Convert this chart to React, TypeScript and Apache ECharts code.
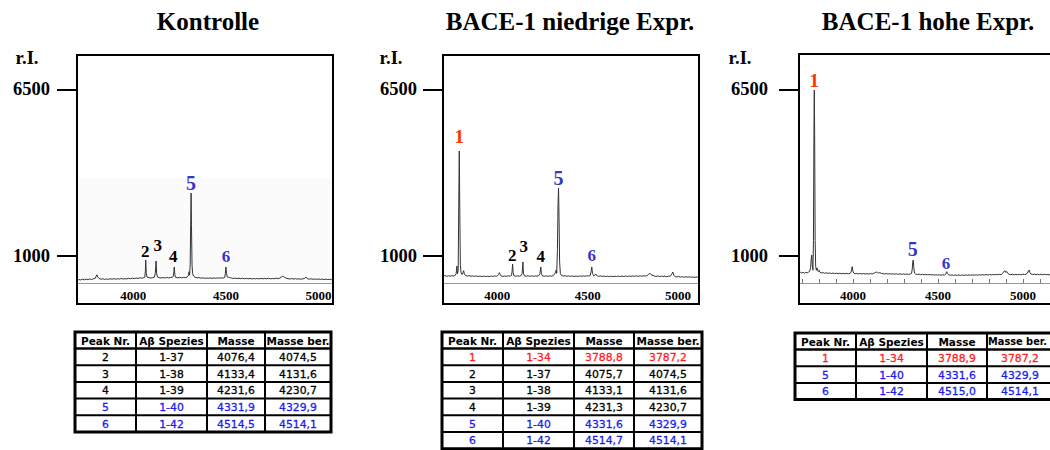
import React, { useEffect, useRef } from "react";
import * as echarts from "echarts";

// ---------------- DATA ----------------
const panelTitles = ["Kontrolle", "BACE-1 niedrige Expr.", "BACE-1 hohe Expr."];
const yAxisName = "r.I.";
const yTickValues = [1000, 6500];
const xTickValues = [4000, 4500, 5000];
const minorTickValues = [3700, 3800, 3900, 4000, 4100, 4200, 4300, 4400, 4500, 4600, 4700, 4800, 4900, 5000, 5100, 5200];

// [m/z, relative intensity]
const spectrumKontrolle: number[][] = [
  [3696, 190], [3705, 215], [3715, 200], [3725, 225], [3735, 205], [3745, 230], [3755, 210], [3765, 235], [3775, 215], [3785, 240],
  [3795, 260], [3800, 330], [3804, 370], [3808, 300], [3815, 250], [3825, 225], [3835, 240], [3845, 215], [3855, 235], [3865, 220],
  [3875, 240], [3885, 225], [3895, 245], [3905, 225], [3915, 240], [3925, 230], [3935, 250], [3945, 230], [3955, 245], [3965, 235],
  [3975, 255], [3985, 240], [3995, 260], [4005, 245], [4015, 265], [4025, 250], [4035, 270], [4045, 260], [4055, 275], [4062, 290],
  [4065, 480], [4067, 860], [4070, 420], [4074, 300], [4085, 275], [4095, 265], [4105, 280], [4114, 290], [4119, 440], [4123, 827],
  [4126, 400], [4131, 295], [4140, 275], [4150, 265], [4160, 280], [4170, 265], [4180, 285], [4190, 270], [4200, 280], [4210, 285],
  [4216, 330], [4219, 470], [4221, 629], [4224, 380], [4228, 290], [4240, 270], [4250, 285], [4260, 270], [4270, 285], [4280, 275],
  [4290, 295], [4297, 340], [4301, 473], [4304, 360], [4307, 700], [4310, 2200], [4312, 3073], [4314, 2000], [4317, 700], [4320, 420],
  [4325, 330], [4333, 290], [4345, 270], [4355, 280], [4365, 260], [4375, 270], [4385, 255], [4395, 265], [4405, 255], [4415, 268],
  [4425, 255], [4435, 265], [4445, 255], [4455, 270], [4465, 258], [4475, 272], [4485, 262], [4493, 280], [4497, 420], [4500, 629],
  [4503, 420], [4507, 300], [4513, 290], [4520, 280], [4530, 265], [4540, 250], [4550, 262], [4560, 245], [4570, 258], [4580, 242],
  [4590, 255], [4600, 240], [4610, 252], [4620, 238], [4630, 250], [4640, 236], [4650, 248], [4660, 235], [4670, 250], [4680, 236],
  [4690, 252], [4700, 238], [4710, 250], [4720, 240], [4730, 255], [4740, 238], [4750, 250], [4760, 240], [4770, 258], [4780, 245],
  [4790, 262], [4800, 290], [4806, 331], [4812, 310], [4818, 280], [4826, 255], [4835, 245], [4845, 232], [4855, 246], [4865, 230],
  [4875, 242], [4885, 228], [4895, 240], [4905, 226], [4915, 238], [4925, 250], [4932, 300], [4936, 280], [4940, 240], [4950, 228],
  [4960, 238], [4970, 222], [4980, 235], [4990, 220], [5000, 232], [5010, 218], [5020, 230], [5030, 215], [5040, 228], [5050, 212],
  [5060, 225], [5070, 210], [5078, 220],
];

const spectrumNiedrig: number[][] = [
  [3700, 330], [3710, 345], [3720, 320], [3730, 340], [3740, 325], [3750, 345], [3760, 330], [3768, 355], [3773, 420], [3777, 662],
  [3780, 400], [3784, 520], [3787, 2600], [3790, 4461], [3793, 2400], [3796, 700], [3800, 430], [3806, 380], [3811, 450], [3814, 506],
  [3818, 400], [3825, 350], [3835, 330], [3845, 345], [3855, 320], [3865, 335], [3875, 318], [3885, 332], [3895, 315], [3905, 330],
  [3915, 312], [3925, 328], [3935, 310], [3945, 325], [3955, 312], [3965, 330], [3975, 318], [3985, 335], [3995, 320], [4003, 345],
  [4008, 390], [4012, 440], [4016, 380], [4022, 330], [4032, 318], [4042, 332], [4052, 320], [4062, 338], [4072, 325], [4079, 350],
  [4082, 480], [4085, 728], [4088, 450], [4092, 340], [4102, 325], [4112, 338], [4122, 322], [4132, 345], [4138, 420], [4142, 794],
  [4145, 420], [4150, 340], [4160, 325], [4170, 338], [4180, 322], [4190, 336], [4200, 320], [4210, 335], [4220, 325], [4230, 345],
  [4236, 400], [4241, 629], [4244, 420], [4250, 335], [4260, 322], [4270, 336], [4280, 320], [4290, 338], [4300, 325], [4310, 345],
  [4318, 400], [4323, 470], [4326, 530], [4329, 420], [4333, 1200], [4336, 2600], [4339, 3238], [4342, 2200], [4345, 800], [4349, 420],
  [4355, 350], [4365, 330], [4375, 340], [4385, 322], [4395, 336], [4405, 318], [4415, 332], [4425, 315], [4435, 330], [4445, 318],
  [4455, 332], [4465, 320], [4475, 335], [4485, 322], [4495, 338], [4505, 330], [4514, 345], [4519, 470], [4523, 629], [4527, 420],
  [4533, 340], [4540, 360], [4545, 397], [4550, 345], [4560, 320], [4570, 334], [4580, 318], [4590, 330], [4600, 312], [4610, 326],
  [4620, 310], [4630, 325], [4640, 310], [4650, 324], [4660, 312], [4670, 328], [4680, 314], [4690, 328], [4700, 315], [4710, 330],
  [4720, 316], [4730, 332], [4740, 318], [4750, 334], [4760, 320], [4770, 336], [4780, 322], [4790, 338], [4800, 325], [4810, 340],
  [4820, 330], [4830, 350], [4838, 390], [4845, 420], [4850, 380], [4856, 350], [4862, 364], [4868, 330], [4878, 318], [4888, 330],
  [4898, 315], [4908, 328], [4918, 312], [4928, 326], [4938, 310], [4948, 325], [4958, 330], [4965, 390], [4971, 463], [4976, 360],
  [4984, 310], [4994, 300], [5004, 312], [5014, 296], [5024, 308], [5034, 292], [5044, 305], [5054, 290], [5064, 302], [5074, 288],
  [5084, 300], [5094, 286], [5104, 298], [5116, 288],
];

const spectrumHoch: number[][] = [
  [3682, 440], [3690, 455], [3698, 430], [3706, 450], [3714, 428], [3722, 448], [3730, 435], [3738, 460], [3745, 490], [3750, 600],
  [3754, 900], [3757, 1025], [3760, 700], [3764, 520], [3767, 1500], [3770, 5200], [3772, 6476], [3774, 5000], [3777, 1500], [3780, 650],
  [3784, 520], [3788, 600], [3791, 586], [3795, 480], [3800, 520], [3804, 460], [3812, 430], [3822, 445], [3832, 420], [3842, 438],
  [3852, 418], [3862, 432], [3872, 412], [3882, 428], [3892, 410], [3902, 425], [3912, 408], [3922, 422], [3932, 405], [3942, 420],
  [3952, 405], [3962, 418], [3972, 402], [3982, 420], [3988, 450], [3992, 560], [3995, 638], [3998, 520], [4003, 430], [4012, 405],
  [4022, 418], [4032, 400], [4042, 415], [4052, 398], [4062, 412], [4072, 396], [4082, 410], [4092, 395], [4102, 410], [4112, 400],
  [4122, 420], [4130, 440], [4136, 465], [4139, 473], [4143, 450], [4150, 430], [4158, 445], [4166, 420], [4176, 410], [4186, 398],
  [4196, 412], [4206, 395], [4216, 408], [4226, 392], [4236, 406], [4246, 390], [4256, 404], [4266, 388], [4276, 402], [4286, 386],
  [4296, 400], [4306, 385], [4316, 398], [4326, 384], [4336, 396], [4344, 420], [4348, 560], [4351, 800], [4354, 860], [4357, 640],
  [4361, 430], [4368, 395], [4378, 380], [4388, 392], [4398, 376], [4408, 388], [4418, 372], [4428, 384], [4438, 368], [4448, 380],
  [4458, 365], [4468, 376], [4478, 362], [4488, 374], [4498, 360], [4508, 372], [4518, 358], [4528, 370], [4538, 364], [4545, 395],
  [4549, 450], [4551, 473], [4555, 410], [4562, 370], [4572, 355], [4582, 368], [4592, 352], [4602, 365], [4612, 350], [4622, 364],
  [4632, 350], [4642, 365], [4652, 352], [4662, 366], [4672, 354], [4682, 368], [4692, 355], [4702, 370], [4712, 356], [4722, 372],
  [4732, 358], [4742, 374], [4752, 360], [4762, 376], [4772, 362], [4782, 378], [4792, 365], [4802, 380], [4812, 367], [4822, 382],
  [4832, 370], [4842, 385], [4852, 372], [4862, 388], [4872, 378], [4880, 420], [4886, 480], [4893, 506], [4898, 450], [4904, 480],
  [4910, 420], [4918, 385], [4928, 375], [4938, 388], [4948, 372], [4958, 386], [4968, 370], [4978, 384], [4988, 372], [4998, 390],
  [5008, 378], [5018, 395], [5026, 430], [5031, 500], [5036, 530], [5040, 450], [5046, 400], [5056, 380], [5066, 392], [5076, 376],
  [5086, 390], [5096, 374], [5106, 388], [5116, 372], [5126, 386], [5136, 370], [5146, 384], [5156, 368], [5166, 382], [5176, 366],
  [5186, 380], [5196, 365], [5206, 378], [5217, 368],
];

// peak annotation: [peak number, m/z, intensity at label centre]
const peakLabelsKontrolle: [string, number, number][] = [
  ["2", 4064, 1134], ["3", 4132, 1332], ["4", 4215, 969], ["5", 4312, 3413], ["6", 4500, 969],
];
const peakLabelsNiedrig: [string, number, number][] = [
  ["1", 3790, 4956], ["2", 4083, 1025], ["3", 4147, 1322], ["4", 4241, 969], ["5", 4339, 3579], ["6", 4523, 1002],
];
const peakLabelsHoch: [string, number, number][] = [
  ["1", 3772, 6806], ["5", 4351, 1213], ["6", 4546, 751],
];

const tableHeader = ["Peak Nr.", "Aβ Spezies", "Masse", "Masse ber."];
const tableKontrolle = [
  ["2", "1-37", "4076,4", "4074,5"],
  ["3", "1-38", "4133,4", "4131,6"],
  ["4", "1-39", "4231,6", "4230,7"],
  ["5", "1-40", "4331,9", "4329,9"],
  ["6", "1-42", "4514,5", "4514,1"],
];
const tableNiedrig = [
  ["1", "1-34", "3788,8", "3787,2"],
  ["2", "1-37", "4075,7", "4074,5"],
  ["3", "1-38", "4133,1", "4131,6"],
  ["4", "1-39", "4231,3", "4230,7"],
  ["5", "1-40", "4331,6", "4329,9"],
  ["6", "1-42", "4514,7", "4514,1"],
];
const tableHoch = [
  ["1", "1-34", "3788,9", "3787,2"],
  ["5", "1-40", "4331,6", "4329,9"],
  ["6", "1-42", "4515,0", "4514,1"],
];

// ---------------- LAYOUT / STYLE ----------------
const SERIF = '"Liberation Serif", "DejaVu Serif", serif';
const TSANS = '"DejaVu Sans", "Liberation Sans", sans-serif';
const GRID_TOP = 56;
const GRID_H = 227;
const Y_MIN = 100;
const Y_MAX = 7600;

const panels = [
  { title: panelTitles[0], spectrum: spectrumKontrolle, labels: peakLabelsKontrolle, table: tableKontrolle,
    titleX: 208, rIx: 27, gridLeft: 77, gridWidth: 256, xMin: 3696, xMax: 5078, yLabelMargin: 27,
    frame: [77, 55, 256, 249], minorTicks: false, shade: true,
    tbl: { x: 75, y: 332, colW: [61, 71, 58, 66], lastHeaderSize: 10.5, lastHeaderDx: 0 } },
  { title: panelTitles[1], spectrum: spectrumNiedrig, labels: peakLabelsNiedrig, table: tableNiedrig,
    titleX: 570, rIx: 391, gridLeft: 443, gridWidth: 256, xMin: 3700, xMax: 5116, yLabelMargin: 26,
    frame: [443, 55, 256, 249], minorTicks: false, shade: false,
    tbl: { x: 442, y: 332, colW: [61, 71, 60, 68], lastHeaderSize: 10.5, lastHeaderDx: 0 } },
  { title: panelTitles[2], spectrum: spectrumHoch, labels: peakLabelsHoch, table: tableHoch,
    titleX: 928, rIx: 740, gridLeft: 799, gridWidth: 261, xMin: 3682, xMax: 5217, yLabelMargin: 31,
    frame: [799, 54, 270, 250], minorTicks: true, shade: false,
    tbl: { x: 795, y: 333, colW: [61, 71, 60, 66], lastHeaderSize: 9.8, lastHeaderDx: -2.5 } },
];

const HEADER_H = 16.5;
const ROW_H = 16.7;

function peakColor(nr: string, table = false) {
  if (nr === "1") return table ? "#ff1e1e" : "#ff3300";
  if (nr === "5" || nr === "6") return table ? "#1c1cf0" : "#3636c8";
  return "#000000";
}
function peakFont(nr: string) {
  if (nr === "5") return 20;
  if (nr === "1") return 19;
  return 17;
}

function tableGraphics(rows: string[][], t: { x: number; y: number; colW: number[]; lastHeaderSize: number; lastHeaderDx: number }) {
  const els: any[] = [];
  const xs = [t.x];
  t.colW.forEach((w) => xs.push(xs[xs.length - 1] + w));
  const ys = [t.y, t.y + HEADER_H];
  rows.forEach(() => ys.push(ys[ys.length - 1] + ROW_H));
  const right = xs[xs.length - 1];
  const bottom = ys[ys.length - 1];
  els.push({ type: "rect", z: 40, shape: { x: t.x, y: t.y, width: right - t.x, height: bottom - t.y }, style: { fill: "#fff", stroke: "none" } });
  for (let i = 1; i < xs.length - 1; i++) {
    els.push({ type: "line", z: 41, shape: { x1: xs[i], y1: t.y, x2: xs[i], y2: bottom }, style: { stroke: "#000", lineWidth: 2 } });
  }
  for (let i = 1; i < ys.length - 1; i++) {
    els.push({ type: "line", z: 41, shape: { x1: t.x, y1: ys[i], x2: right, y2: ys[i] }, style: { stroke: "#000", lineWidth: i === 1 ? 2.5 : 2 } });
  }
  els.push({ type: "rect", z: 42, shape: { x: t.x, y: t.y, width: right - t.x, height: bottom - t.y }, style: { fill: "none", stroke: "#000", lineWidth: 3 } });
  tableHeader.forEach((h, c) => {
    const last = c === tableHeader.length - 1;
    els.push({ type: "text", z: 43, x: (xs[c] + xs[c + 1]) / 2 + (last ? t.lastHeaderDx : 0), y: (ys[0] + ys[1]) / 2 + 0.5,
      style: { text: h, fill: "#000", fontFamily: TSANS, fontWeight: "bold", fontSize: last ? t.lastHeaderSize : 10.5,
        textAlign: "center", textVerticalAlign: "middle", align: "center", verticalAlign: "middle" } });
  });
  rows.forEach((r, ri) => {
    const col = peakColor(r[0], true);
    r.forEach((cell, c) => {
      els.push({ type: "text", z: 43, x: (xs[c] + xs[c + 1]) / 2, y: (ys[ri + 1] + ys[ri + 2]) / 2 + 0.5,
        style: { text: cell, fill: col, stroke: col, lineWidth: 0.3, fontFamily: TSANS, fontSize: 10.8,
          textAlign: "center", textVerticalAlign: "middle", align: "center", verticalAlign: "middle" } });
    });
  });
  return els;
}

const plain = (v: number) => String(v);

export default function App() {
  const ref = useRef<HTMLDivElement>(null);
  useEffect(() => {
    if (!ref.current) return;
    const chart = echarts.init(ref.current, undefined, { renderer: "svg" });

    const graphic: any[] = [];
    panels.forEach((p) => {
      graphic.push({ type: "text", z: 50, x: p.titleX, y: 21,
        style: { text: p.title, fill: "#000", fontFamily: SERIF, fontWeight: "bold", fontSize: 25,
          textAlign: "center", textVerticalAlign: "middle", align: "center", verticalAlign: "middle" } });
      graphic.push({ type: "text", z: 50, x: p.rIx, y: 58,
        style: { text: yAxisName, fill: "#000", fontFamily: SERIF, fontWeight: "bold", fontSize: 18.5,
          textAlign: "center", textVerticalAlign: "middle", align: "center", verticalAlign: "middle" } });
      if (p.shade) {
        graphic.push({ type: "rect", z: 0, shape: { x: p.frame[0] + 1, y: 178, width: p.frame[2] - 2, height: 105 },
          style: { fill: "#fbfbfb", stroke: "none" } });
      }
      graphic.push({ type: "rect", z: 50, shape: { x: p.frame[0], y: p.frame[1], width: p.frame[2], height: p.frame[3] },
        style: { fill: "none", stroke: "#000", lineWidth: 2 } });
      tableGraphics(p.table, p.tbl).forEach((e) => graphic.push(e));
    });

    const option: any = {
      animation: false,
      backgroundColor: "#ffffff",
      grid: panels.map((p) => ({
        left: p.gridLeft, top: GRID_TOP, width: p.gridWidth, height: GRID_H,
        containLabel: false, outerBoundsMode: "none",
      })),
      xAxis: panels.map((p, i) => ({
        type: "value", gridIndex: i, min: p.xMin, max: p.xMax,
        axisLine: { show: true, onZero: false, lineStyle: { color: "#999", width: 1 } },
        axisTick: { show: p.minorTicks, inside: true, customValues: minorTickValues, length: 4, lineStyle: { color: "#777", width: 1 } },
        axisLabel: { show: true, customValues: xTickValues, formatter: plain, margin: 6, color: "#000", fontFamily: SERIF, fontWeight: "bold", fontSize: 13 },
        splitLine: { show: false },
      })),
      yAxis: panels.map((p, i) => ({
        type: "value", gridIndex: i, min: Y_MIN, max: Y_MAX,
        axisLine: { show: false },
        axisTick: { show: true, customValues: yTickValues, length: 20, lineStyle: { color: "#000", width: 2 } },
        axisLabel: { show: true, customValues: yTickValues, formatter: plain, margin: p.yLabelMargin, color: "#000", fontFamily: SERIF, fontWeight: "bold", fontSize: 18.5 },
        splitLine: { show: false },
      })),
      series: [
        ...panels.map((p, i) => ({
          type: "line", xAxisIndex: i, yAxisIndex: i, data: p.spectrum,
          showSymbol: false, symbol: "none", silent: true, z: 3,
          lineStyle: { color: "#333", width: 1 },
        })),
        ...panels.map((p, i) => ({
          type: "scatter", xAxisIndex: i, yAxisIndex: i, symbolSize: 0.1, silent: true, z: 4,
          itemStyle: { color: "#ffffff", opacity: 1 },
          data: p.labels.map((l) => ({
            name: l[0], value: [l[1], l[2]],
            label: { color: peakColor(l[0]), fontSize: peakFont(l[0]) },
          })),
          label: { show: true, position: "inside", formatter: "{b}", fontFamily: SERIF, fontWeight: "bold",
            textBorderWidth: 0, textBorderColor: "transparent", opacity: 1 },
        })),
      ],
      graphic,
    };
    chart.setOption(option);
    return () => chart.dispose();
  }, []);

  return (
    <div
      ref={ref}
      style={{ position: "fixed", left: 0, top: 0, width: 1050, height: 450, background: "#fff" }}
    />
  );
}
